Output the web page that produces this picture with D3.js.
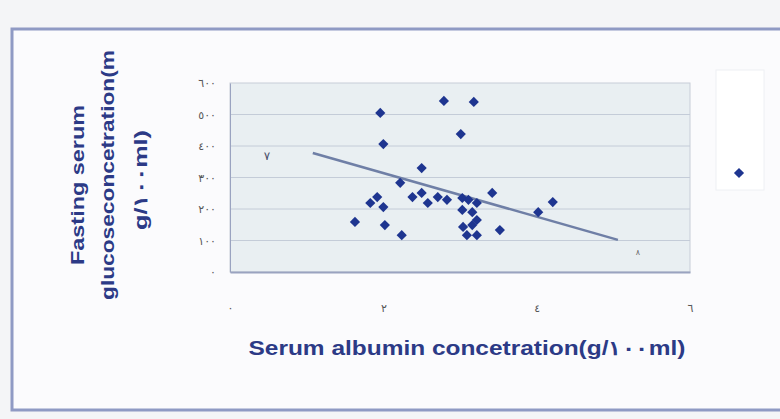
<!DOCTYPE html>
<html>
<head>
<meta charset="utf-8">
<script src="https://cdn.jsdelivr.net/npm/d3@7"></script>
<style>
  body { margin: 0; background: #f4f5f7; }
  svg { display: block; }
</style>
</head>
<body>
<svg id="chart" width="780" height="419"></svg>
<script>
// serum albumin (g/100ml) vs fasting serum glucose (mg/100ml)
const albumin = [1.96, 2.00, 2.79, 3.18, 3.01, 2.50, 2.22, 1.83, 1.92, 2.00, 1.63, 2.02, 2.24,
  2.38, 2.50, 2.58, 2.71, 2.83, 3.03, 3.11, 3.22, 3.03, 3.16, 3.22, 3.04, 3.16, 3.22, 3.09,
  3.42, 3.52, 4.02, 4.21];
const glucose = [505, 406, 543, 540, 438, 330, 283, 219, 238, 206, 159, 149, 117,
  238, 251, 219, 238, 229, 235, 229, 219, 197, 190, 165, 143, 149, 117, 117,
  251, 133, 190, 222];
const trendX = [1.08, 5.06];
const trendY = [378, 102];
const xTicks = [0, 2, 4, 6];
const yTicks = [0, 100, 200, 300, 400, 500, 600];

const arabic = n => String(n).replace(/\d/g, d => "٠١٢٣٤٥٦٧٨٩"[d]);

const svg = d3.select("#chart");
const plotLeft = 230, plotRight = 690, plotTop = 83, plotBottom = 272;

const x = d3.scaleLinear().domain([0, 6]).range([plotLeft, plotRight]);
const y = d3.scaleLinear().domain([0, 600]).range([plotBottom, plotTop]);

// frame
svg.append("rect").attr("x", 12).attr("y", 29).attr("width", 780).attr("height", 381)
  .attr("fill", "#fbfbfd").attr("stroke", "#8f9ac4").attr("stroke-width", 3);

// plot area
svg.append("rect").attr("x", plotLeft).attr("y", plotTop)
  .attr("width", plotRight - plotLeft).attr("height", plotBottom - plotTop)
  .attr("fill", "#e9eff2").attr("stroke", "#c7cdd8");

// grid
svg.append("g").selectAll("line").data(yTicks.slice(1, -1)).join("line")
  .attr("x1", plotLeft).attr("x2", plotRight)
  .attr("y1", d => y(d)).attr("y2", d => y(d))
  .attr("stroke", "#c4ccd8").attr("stroke-width", 1);

// axes
const yAxis = svg.append("g").attr("transform", `translate(${plotLeft},0)`)
  .call(d3.axisLeft(y).tickValues(yTicks).tickFormat(d => arabic(d)).tickSize(0).tickPadding(14));
yAxis.select(".domain").attr("stroke", "#9aa3c0");
yAxis.selectAll("text").attr("font-family", "DejaVu Sans").attr("font-size", 11)
  .attr("letter-spacing", 1).attr("fill", "#555");

const xAxis = svg.append("g").attr("transform", `translate(0,${plotBottom})`)
  .call(d3.axisBottom(x).tickValues(xTicks).tickFormat(d => arabic(d)).tickSize(0).tickPadding(32));
xAxis.select(".domain").attr("stroke", "#9aa3c0").attr("stroke-width", 2);
xAxis.selectAll("text").attr("font-family", "DejaVu Sans").attr("font-size", 11).attr("fill", "#555");

// trend line
svg.append("line")
  .attr("x1", x(trendX[0])).attr("y1", y(trendY[0]))
  .attr("x2", x(trendX[1])).attr("y2", y(trendY[1]))
  .attr("stroke", "#6f7fa6").attr("stroke-width", 2.5);

// points
const diamond = d3.symbol(d3.symbolSquare, 52);
svg.append("g").selectAll("path").data(albumin).join("path")
  .attr("d", diamond)
  .attr("transform", (d, i) => `translate(${x(d)},${y(glucose[i])}) rotate(45)`)
  .attr("fill", "#1e3590");

// stray marks on the scan
svg.append("text").attr("x", 267).attr("y", 160).attr("text-anchor", "middle")
  .attr("font-family", "DejaVu Sans").attr("font-size", 12).attr("fill", "#4a4f6a").text("٧");
svg.append("text").attr("x", 638).attr("y", 255).attr("text-anchor", "middle")
  .attr("font-family", "DejaVu Sans").attr("font-size", 8).attr("fill", "#666").text("٨");

// legend
svg.append("rect").attr("x", 716).attr("y", 70).attr("width", 48).attr("height", 120)
  .attr("fill", "#ffffff").attr("stroke", "#eef0f4");
svg.append("path").attr("d", diamond)
  .attr("transform", "translate(739,173) rotate(45)").attr("fill", "#1e3590");

// titles
const titleFont = "Liberation Sans";
const yTitle = svg.append("text")
  .attr("transform", "translate(0,180) rotate(-90)")
  .attr("text-anchor", "middle").attr("font-family", titleFont)
  .attr("font-weight", "bold").attr("font-size", 19).attr("fill", "#2c3a86");
yTitle.append("tspan").attr("x", -5).attr("y", 84)
  .attr("textLength", 160).attr("lengthAdjust", "spacingAndGlyphs").text("Fasting serum");
yTitle.append("tspan").attr("x", 5).attr("y", 114)
  .attr("textLength", 250).attr("lengthAdjust", "spacingAndGlyphs").text("glucoseconcetration(m");
yTitle.append("tspan").attr("x", 0).attr("y", 147)
  .attr("textLength", 100).attr("lengthAdjust", "spacingAndGlyphs").text("g/١٠٠ml)");

svg.append("text").attr("x", 467).attr("y", 355).attr("text-anchor", "middle")
  .attr("font-family", titleFont).attr("font-weight", "bold").attr("font-size", 20)
  .attr("textLength", 437).attr("lengthAdjust", "spacingAndGlyphs")
  .attr("fill", "#2c3a86").text("Serum albumin concetration(g/١٠٠ml)");
</script>
</body>
</html>
